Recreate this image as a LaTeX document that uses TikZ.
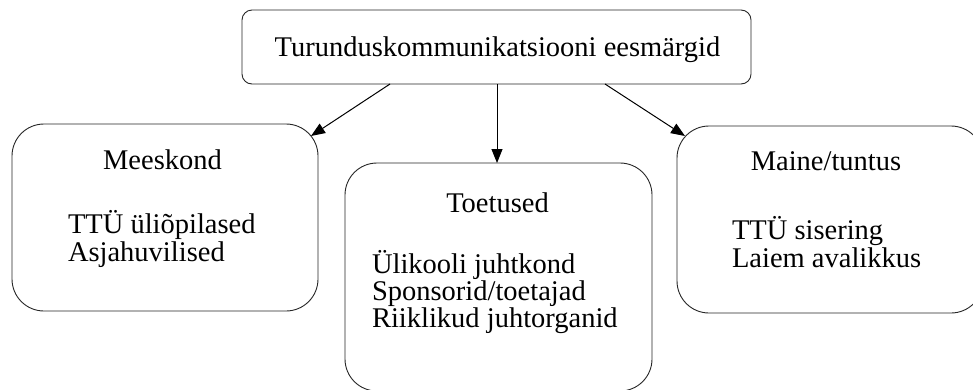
\documentclass[tikz,border=0pt]{standalone}
\usepackage{fontspec}
\setmainfont{Liberation Serif}
\usetikzlibrary{arrows.meta}
\begin{document}
\begin{tikzpicture}[x=1pt,y=-1pt,
  box/.style={draw=black!85, line width=0.9pt, inner sep=0pt, outer sep=0pt},
  bigbox/.style={box, rounded corners=32pt},
  topbox/.style={box, rounded corners=10pt},
  lbl/.style={inner sep=0pt, outer sep=0pt, font=\fontsize{28.5}{27.5}\selectfont},
  arr/.style={draw=black, line width=1pt, -{Triangle[length=14pt,width=11pt]}}]
\useasboundingbox (0,0) rectangle (973,389);
\clip (0,0) rectangle (973,389);
\fill[white] (0,0) rectangle (973,389);
% boxes
\node[topbox, minimum width=509pt, minimum height=74pt] (top) at (496.5,47) {};
\node[bigbox, minimum width=306pt, minimum height=187pt] (left) at (165,217.5) {};
\node[bigbox, minimum width=307pt, minimum height=228pt] (mid) at (498.5,277) {};
\node[bigbox, minimum width=306pt, minimum height=187pt] (right) at (830,219.5) {};
% texts
\node[lbl, anchor=base] (ttop) at (497.5,56) {Turunduskommunikatsiooni eesmärgid};
\node[lbl, anchor=base] (tl1) at (162.5,169) {Meeskond};
\node[lbl, anchor=base west] (tl2) at (68,233) {TTÜ üliõpilased};
\node[lbl, anchor=base west] (tl3) at (68,261) {Asjahuvilised};
\node[lbl, anchor=base] (tm1) at (497.5,212) {Toetused};
\node[lbl, anchor=base west] (tm2) at (372,273) {Ülikooli juhtkond};
\node[lbl, anchor=base west] (tm3) at (372,300.5) {Sponsorid/toetajad};
\node[lbl, anchor=base west] (tm4) at (372,327) {Riiklikud juhtorganid};
\node[lbl, anchor=base] (tr1) at (826,170) {Maine/tuntus};
\node[lbl, anchor=base west] (tr2) at (732,239) {TTÜ sisering};
\node[lbl, anchor=base west] (tr3) at (732,267) {Laiem avalikkus};
% connector end points
\coordinate (s1) at (390,84);
\coordinate (s2) at (497,84);
\coordinate (s3) at (605,84);
\coordinate (e1) at (311,136);
\coordinate (e3) at (685,136);
\draw[arr] (s1) -- (e1);
\draw[arr] (s2) -- (s2 |- mid.north);
\draw[arr] (s3) -- (e3);
\end{tikzpicture}
\end{document}
